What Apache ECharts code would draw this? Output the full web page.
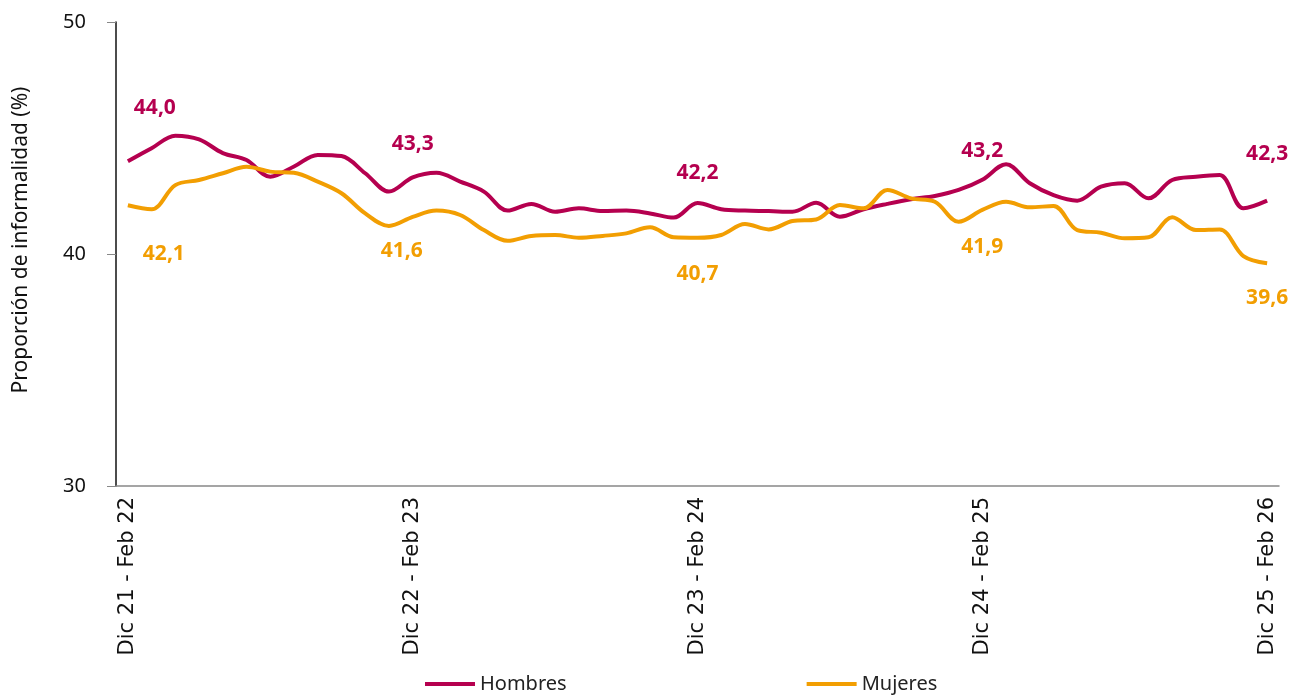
<!DOCTYPE html>
<html>
<head>
    <meta charset="UTF-8">
    <title>Proporción de informalidad</title>
    <script src="https://cdn.jsdelivr.net/npm/echarts@6/dist/echarts.min.js"></script>
    <style type="text/css">
        html, body { margin: 0; padding: 0; background: #fff; }
        #chart { width: 1301px; height: 698px; }
    </style>
</head>
<body>
<div id="chart"></div>
<script>
// trimestres móviles, Dic 21 - Feb 22 ... Dic 25 - Feb 26
var meses = ['Dic', 'Ene', 'Feb', 'Mar', 'Abr', 'May', 'Jun', 'Jul', 'Ago', 'Sep', 'Oct', 'Nov'];
var categorias = [];
for (var i = 0; i < 49; i++) {
    var a = 21 + Math.floor(i / 12);
    var m1 = i % 12, m3 = (i + 2) % 12;
    var a3 = 21 + Math.floor((i + 2 + 11) / 12);
    categorias.push(meses[m1] + ' ' + (m1 === 0 ? a : a + 1) + ' - ' + meses[m3] + ' ' + a3);
}

var hombres = [44.0, 44.56, 45.1, 44.94, 44.35, 44.05, 43.33, 43.77, 44.27, 44.22, 43.48, 42.69,
    43.3, 43.5, 43.12, 42.69, 41.87, 42.16, 41.82, 41.97, 41.85, 41.87, 41.75, 41.57,
    42.2, 41.93, 41.87, 41.85, 41.82, 42.21, 41.61, 41.93, 42.16, 42.36, 42.5, 42.76,
    43.2, 43.87, 43.05, 42.54, 42.3, 42.9, 43.05, 42.4, 43.19, 43.33, 43.4, 41.97, 42.3];

var mujeres = [42.1, 41.93, 42.97, 43.19, 43.48, 43.76, 43.55, 43.5, 43.12, 42.62, 41.75, 41.21,
    41.6, 41.87, 41.68, 41.03, 40.57, 40.78, 40.82, 40.7, 40.78, 40.89, 41.15, 40.72,
    40.7, 40.82, 41.29, 41.06, 41.42, 41.49, 42.11, 41.97, 42.76, 42.4, 42.25, 41.39,
    41.9, 42.25, 42.01, 42.07, 41.03, 40.92, 40.68, 40.72, 41.58, 41.03, 41.06, 39.91, 39.6];

// puntos con etiqueta y su desplazamiento
var etiquetados = [0, 12, 24, 36, 48];
var despHombres = [[27, -53], [0, -33], [0, -30], [0, -29], [0, -47]];
var despMujeres = [[36, 49], [-11, 34], [0, 36], [0, 37], [0, 35]];

var rojo = '#B5004F';
var naranja = '#F29E02';
var fuente = 'Noto Sans';

function conEtiquetas(valores, desp, color) {
    return valores.map(function (v, i) {
        var k = etiquetados.indexOf(i);
        if (k < 0) return v;
        return {
            value: v,
            label: {
                show: true,
                position: 'inside',
                offset: desp[k],
                color: color,
                fontFamily: fuente,
                fontWeight: 'bold',
                fontSize: 21,
                formatter: function (p) { return p.value.toFixed(1).replace('.', ','); }
            }
        };
    });
}

var chart = echarts.init(document.getElementById('chart'));
var option = {
    animation: false,
    textStyle: { fontFamily: fuente },
    grid: { left: 116, right: 22, top: 22, bottom: 212 },
    legend: {
        bottom: -1,
        left: 420,
        itemGap: 240,
        icon: 'rect',
        itemWidth: 50,
        itemHeight: 4,
        textStyle: { fontSize: 20, color: '#222', fontFamily: fuente },
        data: ['Hombres', 'Mujeres']
    },
    xAxis: {
        type: 'category',
        data: categorias,
        boundaryGap: true,
        axisLine: { lineStyle: { color: '#888', width: 1.5 } },
        axisTick: { interval: 11, length: 8, lineStyle: { color: '#888' } },
        axisLabel: {
            interval: 11,
            rotate: 90,
            margin: 11,
            fontSize: 21,
            fontFamily: 'DejaVu Sans',
            color: '#111'
        }
    },
    yAxis: {
        type: 'value',
        min: 30,
        max: 50,
        interval: 10,
        name: 'Proporción de informalidad (%)',
        nameLocation: 'middle',
        nameGap: 84,
        nameTextStyle: { fontSize: 21, color: '#111', padding: [0, 0, 0, 28] },
        splitLine: { show: false },
        axisLine: { show: true, lineStyle: { color: '#111', width: 1.5 } },
        axisTick: { show: true, length: 9, lineStyle: { color: '#888' } },
        axisLabel: { fontSize: 20, color: '#111', margin: 30 }
    },
    series: [
        {
            name: 'Hombres',
            type: 'line',
            smooth: 0.35,
            symbol: 'circle',
            symbolSize: 0,
            showSymbol: true,
            showAllSymbol: true,
            lineStyle: { color: rojo, width: 4 },
            itemStyle: { color: rojo },
            data: conEtiquetas(hombres, despHombres, rojo)
        },
        {
            name: 'Mujeres',
            type: 'line',
            smooth: 0.35,
            symbol: 'circle',
            symbolSize: 0,
            showSymbol: true,
            showAllSymbol: true,
            lineStyle: { color: naranja, width: 4 },
            itemStyle: { color: naranja },
            data: conEtiquetas(mujeres, despMujeres, naranja)
        }
    ]
};
chart.setOption(option);
</script>
</body>
</html>
